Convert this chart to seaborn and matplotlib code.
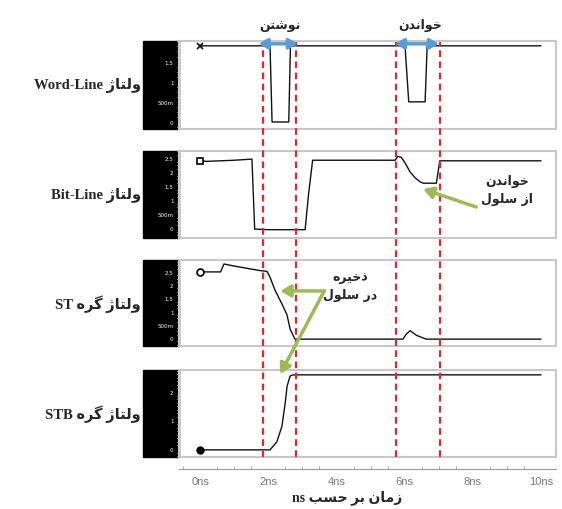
import pandas as pd
import seaborn as sns
import matplotlib.pyplot as plt
from matplotlib.patches import Rectangle
from matplotlib.ticker import MultipleLocator

# waveform samples (time in ns, voltage in V)
wl_t = [0, 2.05, 2.11, 2.60, 2.65, 6.01, 6.12, 6.60, 6.66, 10.0]
wl_v = [1.89, 1.89, 0.0, 0.0, 1.89, 1.89, 0.5, 0.5, 1.89, 1.89]

bl_t = [0, 0.2, 1.0, 1.52, 1.60, 2.0, 3.08, 3.18, 3.30, 5.72, 5.80, 5.90, 6.0,
        6.16, 6.30, 6.45, 6.55, 6.93, 6.98, 7.03, 10.0]
bl_v = [2.40, 2.38, 2.42, 2.46, -0.04, -0.06, -0.06, 1.2, 2.42, 2.42, 2.56, 2.52, 2.35,
        2.0, 1.8, 1.65, 1.6, 1.6, 2.0, 2.40, 2.40]

st_t = [0, 0.6, 0.7, 1.0, 1.76, 1.96, 2.05, 2.2, 2.4, 2.55, 2.64, 2.78, 5.95, 6.05,
        6.16, 6.35, 6.63, 10.0]
st_v = [2.5, 2.5, 2.8, 2.72, 2.55, 2.52, 2.3, 1.8, 1.29, 0.87, 0.34, -0.04, -0.04, 0.15,
        0.28, 0.1, -0.04, -0.04]

stb_t = [0, 2.05, 2.25, 2.4, 2.5, 2.55, 2.64, 2.73, 10.0]
stb_v = [-0.03, -0.03, 0.25, 0.8, 1.65, 2.2, 2.56, 2.6, 2.6]

red_t = [1.85, 2.82, 5.75, 7.04]
x_ticks = [0, 2, 4, 6, 8, 10]

# matplotlib has no arabic shaping: pick contextual forms by hand and write right-to-left
FORMS = {
    'ا': ('\uFE8D', '\uFE8E'), 'ب': ('\uFE8F', '\uFE90', '\uFE91', '\uFE92'),
    'ت': ('\uFE95', '\uFE96', '\uFE97', '\uFE98'), 'ح': ('\uFEA1', '\uFEA2', '\uFEA3', '\uFEA4'),
    'خ': ('\uFEA5', '\uFEA6', '\uFEA7', '\uFEA8'), 'د': ('\uFEA9', '\uFEAA'),
    'ذ': ('\uFEAB', '\uFEAC'), 'ر': ('\uFEAD', '\uFEAE'), 'ز': ('\uFEAF', '\uFEB0'),
    'ژ': ('\uFB8A', '\uFB8B'), 'س': ('\uFEB1', '\uFEB2', '\uFEB3', '\uFEB4'),
    'ش': ('\uFEB5', '\uFEB6', '\uFEB7', '\uFEB8'), 'گ': ('\uFB92', '\uFB93', '\uFB94', '\uFB95'),
    'ل': ('\uFEDD', '\uFEDE', '\uFEDF', '\uFEE0'), 'م': ('\uFEE1', '\uFEE2', '\uFEE3', '\uFEE4'),
    'ن': ('\uFEE5', '\uFEE6', '\uFEE7', '\uFEE8'), 'و': ('\uFEED', '\uFEEE'),
    'ه': ('\uFEE9', '\uFEEA', '\uFEEB', '\uFEEC'), 'ی': ('\uFBFC', '\uFBFD', '\uFBFE', '\uFBFF'),
}


def shape(word):
    if word[0] not in FORMS:
        return word
    out = []
    for i, c in enumerate(word):
        f = FORMS[c]
        before = i > 0 and len(FORMS[word[i - 1]]) == 4
        after = i < len(word) - 1 and len(f) == 4
        out.append(f[3] if before and after else f[1] if before else f[2] if after else f[0])
    return ''.join(reversed(out))


def fa(text):
    return '\n'.join(' '.join(shape(w) for w in reversed(line.split()))
                     for line in text.split('\n'))


sns.set_style("white")
LABEL_FONT = ['Liberation Serif', 'DejaVu Sans']
plt.rcParams['font.family'] = ['DejaVu Sans']

fig = plt.figure(figsize=(5.62, 5.10), dpi=100)
W, H = 562, 510
x0, x1 = 179, 556
xlim = (-0.62, 10.44)
strip = 36 / (x1 - x0)


def panel(top, bottom):
    return fig.add_axes([x0 / W, 1 - bottom / H, (x1 - x0) / W, (bottom - top) / H])


panels = [
    (42, 130, wl_t, wl_v, (-0.174, 2.01), [0, 0.5, 1, 1.5], ['0', '500m', '1', '1.5'], 'ولتاژ Word-Line', 'x'),
    (152, 239, bl_t, bl_v, (-0.357, 2.75), [0, 0.5, 1, 1.5, 2, 2.5],
     ['0', '500m', '1', '1.5', '2', '2.5'], 'ولتاژ Bit-Line', 's'),
    (261, 347, st_t, st_v, (-0.30, 2.95), [0, 0.5, 1, 1.5, 2, 2.5],
     ['0', '500m', '1', '1.5', '2', '2.5'], 'ولتاژ گره ST', 'o'),
    (371, 458, stb_t, stb_v, (-0.28, 2.77), [0, 1, 2], ['0', '1', '2'], 'ولتاژ گره STB', 'fill'),
]

axes = []
for top, bottom, t, v, ylim, yt, ytl, label, mk in panels:
    ax = panel(top, bottom)
    df = pd.DataFrame({'t': t, 'v': v})
    sns.lineplot(data=df, x='t', y='v', ax=ax, color='#111111', lw=1.0, sort=False, estimator=None)
    if mk == 'fill':
        ax.plot(t[0], v[0], 'o', color='black', ms=5)
    elif mk == 'x':
        ax.plot(t[0], v[0], 'x', color='black', ms=5, mew=1.2)
    else:
        ax.plot(t[0], v[0], mk, mfc='white', mec='black', ms=5, mew=1.2)
    ax.set_xlim(xlim)
    ax.set_ylim(ylim)
    ax.set_xticks([])
    ax.set_xlabel('')
    ax.set_ylabel('')
    ax.set_yticks(yt)
    ax.set_yticklabels(ytl, fontsize=4, color='white')
    ax.yaxis.set_minor_locator(MultipleLocator(0.125))
    ax.tick_params(axis='y', which='major', colors='white', length=3, width=0.8, pad=1)
    ax.tick_params(axis='y', which='minor', colors='white', length=1.5, width=0.6, left=True)
    for s in ax.spines.values():
        s.set_color('#c8c8c8')
        s.set_linewidth(1.5)
    ax.add_patch(Rectangle((-strip, 0), strip, 1, transform=ax.transAxes,
                           color='black', clip_on=False, zorder=0))
    ax.text(-strip - 0.005, 0.5, fa(label), transform=ax.transAxes, ha='right', va='center',
            fontsize=10.5, fontweight='bold', family=LABEL_FONT)
    axes.append(ax)

ax_wl, ax_bl, ax_st, ax_stb = axes

# bottom time axis
ax_x = fig.add_axes([x0 / W, 1 - 470 / H, (x1 - x0) / W, 0.0001])
ax_x.set_xlim(xlim)
ax_x.set_yticks([])
for s in ['left', 'right', 'top']:
    ax_x.spines[s].set_visible(False)
ax_x.spines['bottom'].set_color('#9a9a9a')
ax_x.set_xticks(x_ticks)
ax_x.set_xticklabels([f'{x}ns' for x in x_ticks], fontsize=8, color='#777777', family='Liberation Sans')
ax_x.xaxis.set_minor_locator(MultipleLocator(0.5))
ax_x.tick_params(axis='x', which='major', direction='in', length=4, colors='#9a9a9a', pad=5)
ax_x.tick_params(axis='x', which='minor', direction='in', length=2, colors='#9a9a9a', bottom=True)
for lbl in ax_x.get_xticklabels():
    lbl.set_color('#777777')
fig.text(347 / W, 1 - 498 / H, fa('زمان بر حسب ns'), ha='center', va='center',
         fontsize=10, fontweight='bold', family=LABEL_FONT)

# overlay for dashed markers and arrows spanning all panels
ov = fig.add_axes([x0 / W, 1 - 458 / H, (x1 - x0) / W, (458 - 43) / H])
ov.set_xlim(xlim)
ov.axis('off')
for t in red_t:
    ov.axvline(t, color='#e3262b', ls=(0, (3, 2)), lw=1.6)

blue = '#5b9bd5'
for a, b in [(1.72, 2.86), (5.72, 7.0)]:
    ov.annotate('', xy=(a, 1.94), xytext=(b, 1.94), xycoords=ax_wl.transData,
                textcoords=ax_wl.transData,
                arrowprops=dict(arrowstyle='<|-|>,head_width=0.3,head_length=0.5', color=blue, lw=2.5,
                                shrinkA=0, shrinkB=0))
ax_wl.text(2.35, 2.42, fa('نوشتن'), ha='center', va='center', fontsize=9, fontweight='bold')
ax_wl.text(6.45, 2.42, fa('خواندن'), ha='center', va='center', fontsize=9, fontweight='bold')

green = '#9bbb59'
gprops = dict(arrowstyle='-|>,head_width=0.35,head_length=0.6', color=green, lw=2.5,
              shrinkA=0, shrinkB=0)
ov.annotate('', xy=(6.54, 1.39), xytext=(8.1, 0.75), xycoords=ax_bl.transData,
            textcoords=ax_bl.transData, arrowprops=gprops)
ax_bl.text(9.0, 1.37, fa('خواندن\nاز سلول'), ha='center', va='center', fontsize=9,
           fontweight='bold', linespacing=1.5)

ov.annotate('', xy=(2.35, 1.78), xytext=(3.64, 1.78), xycoords=ax_st.transData,
            textcoords=ax_st.transData, arrowprops=gprops)
ov.annotate('', xy=(2.35, 2.63), xytext=(3.64, 1.78), xycoords=ax_stb.transData,
            textcoords=ax_st.transData, arrowprops=gprops)
ax_st.text(4.4, 2.0, fa('ذخیره\nدر سلول'), ha='center', va='center', fontsize=9,
           fontweight='bold', linespacing=1.5)

fig.savefig('out.png', dpi=100)
